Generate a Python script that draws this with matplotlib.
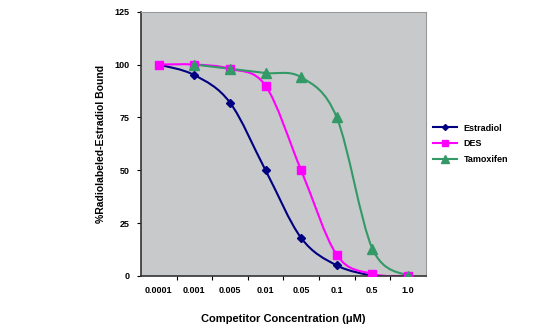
import numpy as np
import matplotlib
matplotlib.use('Agg')
from matplotlib import pyplot as plt
from matplotlib.path import Path
from matplotlib.patches import PathPatch

plt.rcParams['font.family'] = ['Liberation Sans', 'DejaVu Sans']
plt.rcParams['font.weight'] = 'bold'
plt.rcParams['axes.labelweight'] = 'bold'

# data
concs = ['0.0001', '0.001', '0.005', '0.01', '0.05', '0.1', '0.5', '1.0']
estradiol = [100, 95, 82, 50, 18, 5, 0, np.nan]
des = [100, 100, 98, 90, 50, 10, 1, 0]
tamoxifen = [np.nan, 100, 98, 96, 94, 75, 13, 0]


def smooth_path(xs, ys, t=1/6.):
    # excel-like smoothed line: bezier segments through the points
    pts = [(x, y) for x, y in zip(xs, ys) if not np.isnan(y)]
    verts = [pts[0]]
    codes = [Path.MOVETO]
    n = len(pts)
    for i in range(n - 1):
        p0 = pts[max(i - 1, 0)]
        p1 = pts[i]
        p2 = pts[i + 1]
        p3 = pts[min(i + 2, n - 1)]
        c1 = (p1[0] + (p2[0] - p0[0]) * t, p1[1] + (p2[1] - p0[1]) * t)
        c2 = (p2[0] - (p3[0] - p1[0]) * t, p2[1] - (p3[1] - p1[1]) * t)
        verts += [c1, c2, p2]
        codes += [Path.CURVE4] * 3
    return Path(verts, codes)


fig = plt.figure(figsize=(5.49, 3.31), dpi=100)
ax = fig.add_axes([0.2568, 0.1662, 0.5186, 0.7985])
ax.set_facecolor('#C8C9CB')

x = np.arange(len(concs))
series = [
    ('Estradiol', estradiol, '#000080', 'D', 4.5),
    ('DES', des, '#FF00FF', 's', 6),
    ('Tamoxifen', tamoxifen, '#339966', '^', 7),
]
for name, vals, col, mk, ms in series:
    ax.add_patch(PathPatch(smooth_path(x, vals), facecolor='none', edgecolor=col, lw=1.5, zorder=2))
    ax.plot(x, vals, ls='none', marker=mk, color=col, ms=ms, zorder=3)
    ax.plot([], [], color=col, marker=mk, ms=ms - 1.5, lw=1.5, label=name)

ax.set_xlim(-0.5, len(concs) - 0.5)
ax.set_ylim(0, 125)
ax.set_yticks(range(0, 126, 25))
ax.set_xticks(x)
ax.set_xticklabels(concs)
ax.set_xticks(np.arange(0.5, len(concs) - 0.5, 1), minor=True)
ax.tick_params(axis='x', which='major', length=0, pad=7, labelsize=6.5)
ax.tick_params(axis='x', which='minor', length=3, width=0.8)
ax.tick_params(axis='y', length=3, width=0.8, labelsize=6.5, pad=5)

for s in ['left', 'bottom']:
    ax.spines[s].set_color('#333333')
    ax.spines[s].set_linewidth(1.2)
for s in ['top', 'right']:
    ax.spines[s].set_color('#999999')

ax.set_ylabel('%Radiolabeled-Estradiol Bound', fontsize=7.5, labelpad=6)
ax.set_xlabel('Competitor Concentration (\u03bcM)', fontsize=8, labelpad=14)

ax.legend(loc='center left', bbox_to_anchor=(1.01, 0.5), frameon=False,
          fontsize=6.5, handlelength=2.6, labelspacing=0.75, borderpad=0)

plt.savefig('out.png', dpi=100)
